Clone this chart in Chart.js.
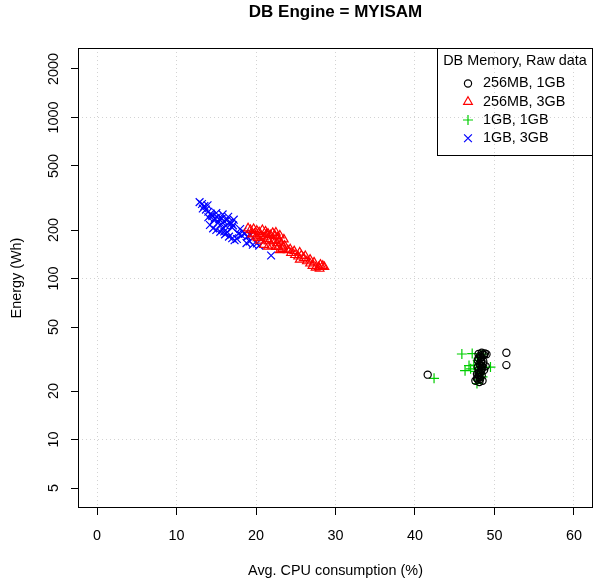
<!DOCTYPE html>
<html>
<head>
<meta charset="utf-8">
<script src="https://cdn.jsdelivr.net/npm/chart.js@4/dist/chart.umd.min.js"></script>
<style>
  html, body { margin: 0; padding: 0; background: #fff; }
  #wrap { width: 595px; height: 586px; }
</style>
</head>
<body>
<div id="wrap"><canvas id="chart" width="595" height="586"></canvas></div>
<script>
// --- DATA ---
const chartTitle = 'DB Engine = MYISAM';
const xTitle = 'Avg. CPU consumption (%)';
const yTitle = 'Energy (Wh)';
const legendTitle = 'DB Memory, Raw data';
const seriesNames = ['256MB, 1GB', '256MB, 3GB', '1GB, 1GB', '1GB, 3GB'];
const xTicks = [0, 10, 20, 30, 40, 50, 60];
const yTicks = [5, 10, 20, 50, 100, 200, 500, 1000, 2000];
const yGridValues = [10, 100, 1000];

// 256MB, 1GB (circles)
const cpu256m1g = [41.6, 47.6, 47.8, 47.9, 48.0, 48.1, 48.2, 48.3, 48.0, 48.4, 47.9, 48.2, 48.5, 48.1, 48.3, 47.9, 48.6, 48.2, 48.5, 48.8, 48.0, 48.4, 48.7, 48.9, 49.0, 48.3, 51.5, 51.5,
    48.0, 48.3, 48.6, 48.2, 48.0, 48.4, 48.2, 47.8, 48.5, 48.1, 48.7, 48.4];
const energy256m1g = [25.3, 23.2, 24.0, 23.6, 25.0, 24.4, 25.8, 26.4, 27.0, 27.3, 28.2, 28.8, 28.0, 29.6, 30.2, 31.0, 29.5, 33.2, 33.8, 34.3, 34.0, 34.6, 33.5, 28.5, 33.9, 32.5, 34.6, 29.0,
    32.0, 31.0, 30.5, 29.0, 26.0, 25.0, 23.8, 25.5, 23.2, 22.8, 27.0, 28.6];

// 256MB, 3GB (triangles)
const cpu256m3g = [19.0, 19.3, 19.7, 20.1, 19.8, 20.4, 20.8, 21.2, 21.5, 20.6, 20.2, 21.0, 21.8, 22.1, 22.4, 22.7, 22.2, 21.6, 22.6, 22.9, 23.2, 22.8, 23.4, 23.0, 21.4, 23.6, 24.0, 24.4, 24.9, 25.3, 25.7, 26.0, 25.5, 26.4, 26.8, 27.1, 27.5, 27.9, 28.6, 28.0,
    21.0, 21.5, 22.0, 22.5, 23.3, 21.3, 22.5, 23.0, 23.5, 24.3, 24.8, 25.5, 26.2, 26.8, 27.3, 28.1, 28.4, 19.5, 20.0, 20.5];
const energy256m3g = [205, 200, 203, 198, 190, 194, 200, 196, 190, 184, 178, 180, 186, 192, 184, 180, 172, 170, 166, 172, 165, 158, 156, 150, 176, 160, 150, 144, 140, 137, 139, 134, 131, 128, 124, 120, 117, 118, 118, 115,
    162, 158, 160, 157, 153, 188, 193, 185, 175, 152, 148, 145, 138, 131, 126, 122, 120, 188, 182, 172];

// 1GB, 1GB (plus)
const cpu1g1g = [42.4, 45.9, 47.2, 48.3, 48.6, 46.3, 46.8, 47.0, 47.4, 47.6, 47.9, 48.0, 48.2, 47.8, 48.5, 48.7, 49.5, 47.9, 48.1, 48.0];
const energy1g1g = [24.0, 34.0, 34.2, 33.5, 34.0, 26.8, 28.8, 27.5, 29.0, 26.5, 31.0, 27.8, 25.5, 22.3, 24.5, 28.0, 28.2, 23.5, 30.0, 32.0];

// 1GB, 3GB (x)
const cpu1g3g = [12.9, 13.2, 13.5, 13.3, 13.7, 14.0, 14.3, 14.0, 14.5, 14.8, 14.7, 15.1, 15.4, 15.7, 15.2, 15.6, 16.0, 16.3, 16.6, 16.9, 17.1, 16.2, 15.8, 17.0, 16.0, 16.4, 17.3, 17.6, 18.3, 18.6, 18.2, 18.9, 19.3, 18.8, 19.2, 19.6, 20.1, 20.4, 21.9, 14.4,
    14.2, 14.6, 15.0, 15.5, 16.1, 16.6, 17.0, 15.0, 15.8, 16.5, 17.2, 13.9, 17.8, 18.0];
const energy1g3g = [298, 290, 282, 272, 268, 260, 253, 240, 244, 236, 230, 240, 233, 236, 222, 218, 226, 230, 222, 220, 214, 212, 206, 207, 196, 194, 173, 176, 196, 190, 185, 182, 186, 166, 170, 162, 165, 160, 139, 248,
    215, 205, 200, 195, 188, 182, 178, 255, 250, 242, 232, 285, 190, 203];

const FONT = '"Liberation Sans", Arial, Helvetica, sans-serif';

const pairUp = (xs, ys) => xs.map((v, i) => ({ x: v, y: ys[i] }));

const seriesStyles = [
    { pointStyle: 'circle', radius: 3.6, color: '#000000' },
    { pointStyle: 'triangle', radius: 5, color: '#ff0000' },
    { pointStyle: 'cross', radius: 5, color: '#00cd00' },
    { pointStyle: 'crossRot', radius: 5.5, color: '#0000ff' }
];
const markerWidth = 1.2;

function makeDataset(idx, xs, ys, order) {
    const s = seriesStyles[idx];
    return {
        label: seriesNames[idx],
        data: pairUp(xs, ys),
        pointStyle: s.pointStyle,
        pointRadius: s.radius,
        pointBorderColor: s.color,
        pointBackgroundColor: 'rgba(0,0,0,0)',
        pointBorderWidth: markerWidth,
        showLine: false,
        order: order
    };
}

// --- DECORATION (box, titles, rotated y labels, legend) ---
const rPlotDecor = {
    id: 'rPlotDecor',
    afterDraw(chart) {
        const { ctx, chartArea: a, scales } = chart;
        const y = scales.y;
        ctx.save();

        ctx.strokeStyle = '#000';
        ctx.lineWidth = 1;
        ctx.strokeRect(a.left + 0.5, a.top + 0.5, a.right - a.left - 1, a.bottom - a.top - 1);

        ctx.fillStyle = '#000';
        ctx.textAlign = 'center';
        ctx.textBaseline = 'middle';
        ctx.font = 'bold 17px ' + FONT;
        ctx.fillText(chartTitle, (a.left + a.right) / 2, 12);

        ctx.font = '14.4px ' + FONT;
        ctx.fillText(xTitle, (a.left + a.right) / 2, 571);

        yTicks.forEach(v => {
            ctx.save();
            ctx.translate(54, y.getPixelForValue(v));
            ctx.rotate(-Math.PI / 2);
            ctx.fillText(String(v), 0, 0);
            ctx.restore();
        });

        ctx.save();
        ctx.translate(17, (a.top + a.bottom) / 2);
        ctx.rotate(-Math.PI / 2);
        ctx.fillText(yTitle, 0, 0);
        ctx.restore();

        // legend
        const lx = 437.5, ly = a.top + 0.5, lw = a.right - 0.5 - lx, lh = 107;
        ctx.strokeRect(lx, ly, lw, lh);
        ctx.fillText(legendTitle, lx + lw / 2, 61);
        const rows = [83.5, 101.8, 120, 138.3];
        seriesNames.forEach((name, i) => {
            const s = seriesStyles[i];
            ctx.save();
            ctx.strokeStyle = s.color;
            ctx.fillStyle = 'rgba(0,0,0,0)';
            ctx.lineWidth = markerWidth;
            Chart.helpers.drawPoint(ctx, { pointStyle: s.pointStyle, radius: s.radius, borderWidth: markerWidth, rotation: 0 }, 468, rows[i]);
            ctx.restore();
            ctx.textAlign = 'left';
            ctx.fillText(name, 483, rows[i]);
        });

        ctx.restore();
    }
};

// --- CHART ---
const ctx = document.getElementById('chart').getContext('2d');
new Chart(ctx, {
    type: 'scatter',
    data: {
        datasets: [
            makeDataset(0, cpu256m1g, energy256m1g, 1),
            makeDataset(1, cpu256m3g, energy256m3g, 0),
            makeDataset(2, cpu1g1g, energy1g1g, 2),
            makeDataset(3, cpu1g3g, energy1g3g, 3)
        ]
    },
    options: {
        responsive: false,
        animation: false,
        events: [],
        layout: { autoPadding: false, padding: { top: 48, right: 2, left: 0, bottom: 0 } },
        plugins: { legend: { display: false }, tooltip: { enabled: false }, title: { display: false } },
        scales: {
            x: {
                type: 'linear',
                min: -2.4,
                max: 62.4,
                bounds: 'data',
                afterBuildTicks: s => { s.ticks = xTicks.map(v => ({ value: v })); },
                afterFit: s => { s.height = 78; },
                ticks: { color: '#000', font: { family: FONT, size: 14.4 }, padding: 12, maxRotation: 0 },
                grid: { color: '#d3d3d3', lineWidth: 1, tickColor: '#000', tickLength: 7, tickWidth: 1 },
                border: { display: false, dash: [1, 3] }
            },
            y: {
                type: 'logarithmic',
                min: 3.76,
                max: 2700,
                bounds: 'data',
                afterBuildTicks: s => { s.ticks = yTicks.map(v => ({ value: v })); },
                afterFit: s => { s.width = 78; },
                ticks: { display: false },
                grid: {
                    color: c => (c.tick && yGridValues.includes(c.tick.value)) ? '#d3d3d3' : 'rgba(0,0,0,0)',
                    lineWidth: 1, tickColor: '#000', tickLength: 7, tickWidth: 1
                },
                border: { display: false, dash: [1, 3] }
            }
        }
    },
    plugins: [rPlotDecor]
});
</script>
</body>
</html>
